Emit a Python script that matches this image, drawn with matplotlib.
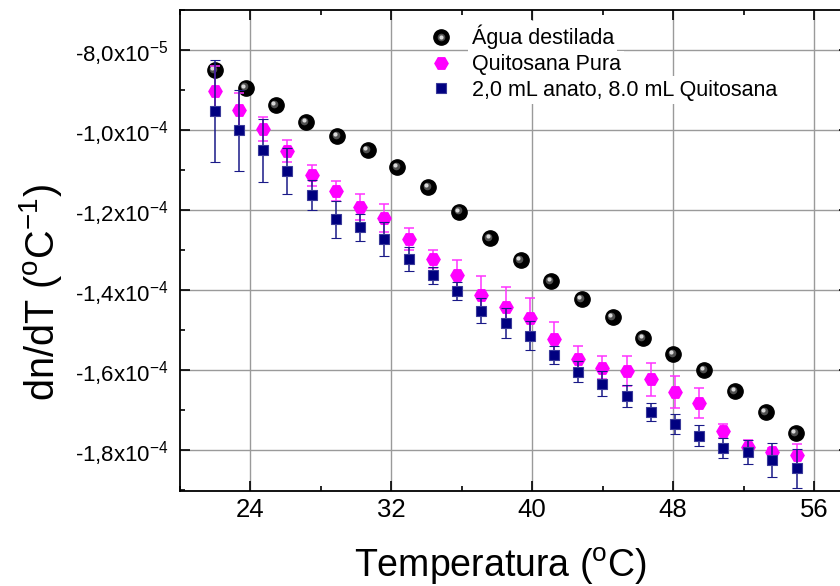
import matplotlib
matplotlib.use("Agg")
import matplotlib.pyplot as plt
from matplotlib.transforms import offset_copy
from matplotlib.legend_handler import HandlerTuple
from matplotlib.ticker import FixedLocator, MultipleLocator

plt.rcParams['font.family'] = ['Liberation Sans', 'DejaVu Sans']
plt.rcParams['mathtext.fontset'] = 'custom'
plt.rcParams['mathtext.rm'] = 'Liberation Sans'
plt.rcParams['mathtext.it'] = 'Liberation Sans:italic'
plt.rcParams['mathtext.bf'] = 'Liberation Sans:bold'

# ---------------- data ----------------
agua_T = [22.01, 23.76, 25.46, 27.18, 28.95, 30.68, 32.36, 34.12, 35.88, 37.62,
          39.36, 41.08, 42.82, 44.58, 46.30, 48.02, 49.78, 51.52, 53.26, 54.96]
agua_dndt = [-8.50e-5, -8.94e-5, -9.38e-5, -9.81e-5, -10.15e-5, -10.50e-5, -10.93e-5,
             -11.43e-5, -12.04e-5, -12.71e-5, -13.25e-5, -13.78e-5, -14.23e-5,
             -14.68e-5, -15.21e-5, -15.60e-5, -16.00e-5, -16.53e-5, -17.05e-5, -17.58e-5]

quit_T = [22.01, 23.38, 24.74, 26.12, 27.50, 28.88, 30.24, 31.62, 33.02, 34.37,
          35.74, 37.12, 38.51, 39.89, 41.23, 42.63, 43.99, 45.37, 46.74, 48.10,
          49.49, 50.86, 52.24, 53.62, 55.01]
quit_dndt = [-9.02e-5, -9.50e-5, -9.98e-5, -10.52e-5, -11.13e-5, -11.52e-5, -11.92e-5,
             -12.21e-5, -12.73e-5, -13.23e-5, -13.62e-5, -14.13e-5, -14.42e-5,
             -14.71e-5, -15.23e-5, -15.73e-5, -15.94e-5, -16.03e-5, -16.23e-5,
             -16.54e-5, -16.82e-5, -17.53e-5, -17.92e-5, -18.04e-5, -18.13e-5]
quit_err = [0.62e-5, 0.43e-5, 0.30e-5, 0.27e-5, 0.26e-5, 0.25e-5, 0.33e-5, 0.35e-5,
            0.28e-5, 0.23e-5, 0.38e-5, 0.49e-5, 0.50e-5, 0.52e-5, 0.43e-5, 0.34e-5,
            0.29e-5, 0.38e-5, 0.41e-5, 0.40e-5, 0.38e-5, 0.18e-5, 0.17e-5, 0.10e-5,
            0.27e-5]

anato_T = [22.01, 23.38, 24.74, 26.12, 27.50, 28.88, 30.24, 31.62, 33.02, 34.37,
           35.74, 37.12, 38.51, 39.89, 41.23, 42.63, 43.99, 45.37, 46.74, 48.10,
           49.49, 50.86, 52.24, 53.62, 55.01]
anato_dndt = [-9.53e-5, -10.01e-5, -10.51e-5, -11.02e-5, -11.63e-5, -12.23e-5, -12.43e-5,
              -12.72e-5, -13.22e-5, -13.63e-5, -14.03e-5, -14.52e-5, -14.83e-5,
              -15.14e-5, -15.63e-5, -16.04e-5, -16.34e-5, -16.65e-5, -17.05e-5,
              -17.35e-5, -17.64e-5, -17.95e-5, -18.05e-5, -18.25e-5, -18.46e-5]
anato_err = [1.28e-5, 1.01e-5, 0.78e-5, 0.57e-5, 0.38e-5, 0.46e-5, 0.34e-5, 0.43e-5,
             0.30e-5, 0.21e-5, 0.23e-5, 0.31e-5, 0.37e-5, 0.37e-5, 0.23e-5, 0.26e-5,
             0.32e-5, 0.28e-5, 0.22e-5, 0.25e-5, 0.26e-5, 0.25e-5, 0.29e-5, 0.43e-5,
             0.49e-5]

series_labels = ['Água destilada', 'Quitosana Pura', '2,0 mL anato, 8.0 mL Quitosana']

x_ticks = [24, 32, 40, 48, 56]
x_ticklabels = ['24', '32', '40', '48', '56']
y_ticks = [-8.0e-5, -1.0e-4, -1.2e-4, -1.4e-4, -1.6e-4, -1.8e-4]
y_ticklabels = [r'-8,0x$10^{-5}$', r'-1,0x$10^{-4}$', r'-1,2x$10^{-4}$',
                r'-1,4x$10^{-4}$', r'-1,6x$10^{-4}$', r'-1,8x$10^{-4}$']

# ---------------- figure ----------------
fig = plt.figure(figsize=(8.4, 5.86), dpi=100)
ax = fig.add_axes([179.5 / 840, 95 / 586, 669.75 / 840, 481 / 586])
ax.set_xlim(20, 58)
ax.set_ylim(-1.9025e-4, -7.0e-5)

ax.grid(True, which='major', color='#9a9a9a', linewidth=1.0)
ax.set_axisbelow(True)

# black spheres
h_black, = ax.plot(agua_T, agua_dndt, linestyle='none', marker='o', ms=11,
                   mfc='black', mec='black', zorder=3)
hl_tr1 = offset_copy(ax.transData, fig=fig, x=-1.2, y=1.0, units='points')
hl_tr2 = offset_copy(ax.transData, fig=fig, x=-1.8, y=1.5, units='points')
ax.plot(agua_T, agua_dndt, linestyle='none', marker='o', ms=5.5, mfc='#505050',
        mec='none', transform=hl_tr1, zorder=3.1)
ax.plot(agua_T, agua_dndt, linestyle='none', marker='o', ms=3, mfc='#d8d8d8',
        mec='none', transform=hl_tr2, zorder=3.2)

# magenta hexagons
eb_q = ax.errorbar(quit_T, quit_dndt, yerr=quit_err, fmt='H', ms=9.5,
                   mfc='#ff00ff', mec='#ff00ff', ecolor='#ff33ff', elinewidth=1.1,
                   capsize=3.8, capthick=1.1, zorder=4)
# navy squares
eb_a = ax.errorbar(anato_T, anato_dndt, yerr=anato_err, fmt='s', ms=7.7,
                   mfc='#000080', mec='#3a3a9a', mew=0.8, ecolor='#1a1a88',
                   elinewidth=1.1, capsize=3.8, capthick=1.1, zorder=5)

# ticks
ax.xaxis.set_major_locator(FixedLocator(x_ticks))
ax.set_xticklabels(x_ticklabels)
ax.xaxis.set_minor_locator(MultipleLocator(4))
ax.yaxis.set_major_locator(FixedLocator(y_ticks))
ax.set_yticklabels(y_ticklabels)
ax.yaxis.set_minor_locator(MultipleLocator(1e-5))
ax.tick_params(which='both', direction='in', top=True, right=True, width=1.2,
               colors='black')
ax.tick_params(which='major', length=7.2)
ax.tick_params(which='minor', length=3.6)
ax.tick_params(axis='y', which='major', labelsize=16, pad=8)
ax.tick_params(axis='x', which='major', labelsize=18.5, pad=5)
for s in ax.spines.values():
    s.set_linewidth(1.3)

ax.set_xlabel(r'Temperatura ($^{\mathrm{o}}$C)', fontsize=27)
ax.xaxis.set_label_coords((500 - 179.5) / 669.75, (491 - 566) / 481)
ax.xaxis.label.set_verticalalignment('center')
ax.set_ylabel(r'dn/dT ($^{\mathrm{o}}$C$^{-1}$)', fontsize=28.5)
ax.yaxis.set_label_coords((41 - 179.5) / 669.75, (491 - 293) / 481)
ax.yaxis.label.set_verticalalignment('center')

# legend
hl_leg1 = plt.Line2D([], [], linestyle='none', marker='o', ms=5.5, mfc='#505050', mec='none')
hl_leg2 = plt.Line2D([], [], linestyle='none', marker='o', ms=3, mfc='#d8d8d8', mec='none')
leg = ax.legend([(h_black, hl_leg1, hl_leg2), eb_q[0], eb_a[0]], series_labels,
                handler_map={tuple: HandlerTuple(ndivide=1)},
                loc='upper left', bbox_to_anchor=((426.4 - 179.5) / 669.75, 0.978),
                borderaxespad=0, borderpad=0.2, frameon=False, fontsize=15.5,
                handlelength=1.0, handletextpad=0.9, labelspacing=0.22,
                numpoints=1)
for t in leg.get_texts():
    t.set_bbox(dict(facecolor='white', edgecolor='none', pad=2.5))

fig.savefig('out.png', dpi=100)
